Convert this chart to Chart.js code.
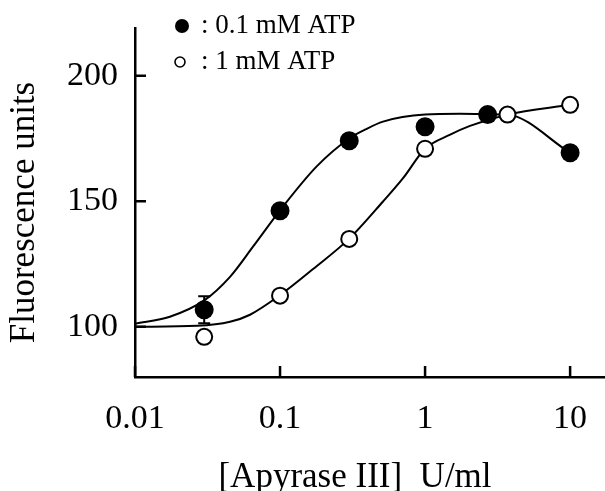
<!DOCTYPE html>
<html><head><meta charset="utf-8">
<script src="https://cdn.jsdelivr.net/npm/chart.js@4"></script>
<style>html,body{margin:0;padding:0;background:#fff;overflow:hidden}</style>
</head><body>
<canvas id="c" width="605" height="491" style="width:605px;height:491px;display:block"></canvas>
<script>
// ---- data ----
const filledX = [0.03, 0.1, 0.3, 1, 2.7, 10];          // 0.1 mM ATP
const filledY = [106.8, 146.2, 174.1, 179.7, 184.5, 169.3];
const filledErr = [5.4, 0, 0, 0, 0, 0];
const openX = [0.03, 0.1, 0.3, 1, 3.7, 10];            // 1 mM ATP
const openY = [96.0, 112.4, 135.0, 170.9, 184.5, 188.4];
// fitted curves as drawn in the figure
const filledCurveX = [0.01, 0.0174, 0.03, 0.0452, 0.0651, 0.1, 0.179, 0.3, 0.385, 0.513, 1, 1.74, 2.7, 3.7, 10];
const filledCurveY = [101.2, 104.0, 110.5, 119.9, 131.9, 146.4, 163.9, 175.0, 178.5, 181.7, 184.5, 184.8, 184.7, 184.5, 169.3];
const openCurveX = [0.01, 0.0268, 0.0452, 0.0621, 0.1, 0.169, 0.3, 0.513, 0.705, 1, 1.49, 2.04, 3.7, 10];
const openCurveY = [100.0, 100.4, 102.0, 104.8, 112.6, 123.0, 135.1, 149.9, 159.2, 170.9, 176.5, 180.0, 184.5, 188.4];
const xTicks = [0.01, 0.1, 1, 10];
const yTicks = [100, 150, 200];
const legendLabels = [': 0.1 mM ATP', ': 1 mM ATP'];
const xTitle = '[Apyrase III]  U/ml';
const yTitle = 'Fluorescence units';

const SERIF = '"Liberation Serif", "Times New Roman", serif';
const pts = (xs, ys) => xs.map((x, i) => ({x: x, y: ys[i]}));
const shiftTitle = (dx, dy) => function () {
  const ctx = this.ctx;
  ctx.save(); ctx.translate(dx, dy);
  Chart.Scale.prototype.drawTitle.call(this);
  ctx.restore();
};

const extras = {
  id: 'extras',
  beforeDatasetsDraw(chart) {
    const ctx = chart.ctx, xs = chart.scales.x, ys = chart.scales.y;
    ctx.save();
    ctx.strokeStyle = '#000';
    ctx.lineWidth = 2;
    filledX.forEach((xv, i) => {
      const e = filledErr[i];
      if (!e) return;
      const px = xs.getPixelForValue(xv);
      const y1 = ys.getPixelForValue(filledY[i] + e);
      const y2 = ys.getPixelForValue(filledY[i] - e);
      ctx.beginPath();
      ctx.moveTo(px, y1); ctx.lineTo(px, y2);
      ctx.moveTo(px - 6, y1); ctx.lineTo(px + 6, y1);
      ctx.moveTo(px - 6, y2); ctx.lineTo(px + 6, y2);
      ctx.stroke();
    });
    ctx.restore();
  },
  afterDraw(chart) {
    const ctx = chart.ctx, xs = chart.scales.x, ys = chart.scales.y, a = chart.chartArea;
    ctx.save();
    ctx.strokeStyle = '#000';
    ctx.lineWidth = 2.5;
    ctx.beginPath();
    xTicks.forEach(v => {
      const px = xs.getPixelForValue(v);
      ctx.moveTo(px, a.bottom); ctx.lineTo(px, a.bottom - 11);
    });
    yTicks.forEach(v => {
      const py = ys.getPixelForValue(v);
      ctx.moveTo(a.left, py); ctx.lineTo(a.left + 11, py);
    });
    ctx.stroke();
    // legend
    ctx.fillStyle = '#000';
    ctx.beginPath(); ctx.arc(182, 26, 7, 0, Math.PI * 2); ctx.fill();
    ctx.lineWidth = 1.6;
    ctx.beginPath(); ctx.arc(180, 62, 5, 0, Math.PI * 2); ctx.stroke();
    ctx.font = '27px ' + SERIF;
    ctx.textBaseline = 'middle';
    ctx.textAlign = 'left';
    ctx.fillText(legendLabels[0], 201, 26);
    ctx.fillText(legendLabels[1], 201, 62);
    ctx.restore();
  }
};

new Chart(document.getElementById('c'), {
  type: 'scatter',
  data: {
    datasets: [
      {label: '0.1 mM ATP', data: pts(filledX, filledY), order: 0,
       pointRadius: 9.5, pointBackgroundColor: '#000', pointBorderColor: '#000', pointBorderWidth: 0, showLine: false},
      {label: '1 mM ATP', data: pts(openX, openY), order: 0,
       pointRadius: 8, pointBackgroundColor: '#fff', pointBorderColor: '#000', pointBorderWidth: 2, showLine: false},
      {label: 'fit 0.1 mM', data: pts(filledCurveX, filledCurveY), order: 1, showLine: true,
       pointRadius: 0, borderColor: '#000', borderWidth: 2, cubicInterpolationMode: 'monotone'},
      {label: 'fit 1 mM', data: pts(openCurveX, openCurveY), order: 1, showLine: true,
       pointRadius: 0, borderColor: '#000', borderWidth: 2, cubicInterpolationMode: 'monotone'}
    ]
  },
  options: {
    responsive: false,
    animation: false,
    devicePixelRatio: 1,
    layout: {autoPadding: false, padding: {top: 28, left: 0, right: 0, bottom: 0}},
    plugins: {legend: {display: false}, tooltip: {enabled: false}},
    scales: {
      x: {
        type: 'logarithmic', min: 0.01, max: 17.4,
        afterBuildTicks: s => { s.ticks = xTicks.map(v => ({value: v})); },
        afterFit: s => { s.height = 114; s.paddingLeft = 0; s.paddingRight = 0; s.drawTitle = shiftTitle(-15, 0); },
        grid: {display: true, drawOnChartArea: false, drawTicks: false},
        border: {display: true, color: '#000', width: 2.5},
        ticks: {color: '#000', font: {family: SERIF, size: 34}, padding: 22, maxRotation: 0, autoSkip: false,
                callback: v => String(v)},
        title: {display: true, text: xTitle, color: '#000', font: {family: SERIF, size: 35, lineHeight: 0.74}, padding: 0}
      },
      y: {
        type: 'linear', min: 80, max: 219,
        afterBuildTicks: s => { s.ticks = yTicks.map(v => ({value: v})); },
        afterFit: s => { s.width = 135; s.paddingTop = 0; s.paddingBottom = 0; s.drawTitle = shiftTitle(0, 10); },
        grid: {display: true, drawOnChartArea: false, drawTicks: false},
        border: {display: true, color: '#000', width: 2.5},
        ticks: {color: '#000', font: {family: SERIF, size: 34}, padding: 17, callback: v => String(v)},
        title: {display: true, text: yTitle, color: '#000', font: {family: SERIF, size: 35, lineHeight: 1.2}, padding: {top: 4, bottom: 0}}
      }
    }
  },
  plugins: [extras]
});
</script>
</body></html>
